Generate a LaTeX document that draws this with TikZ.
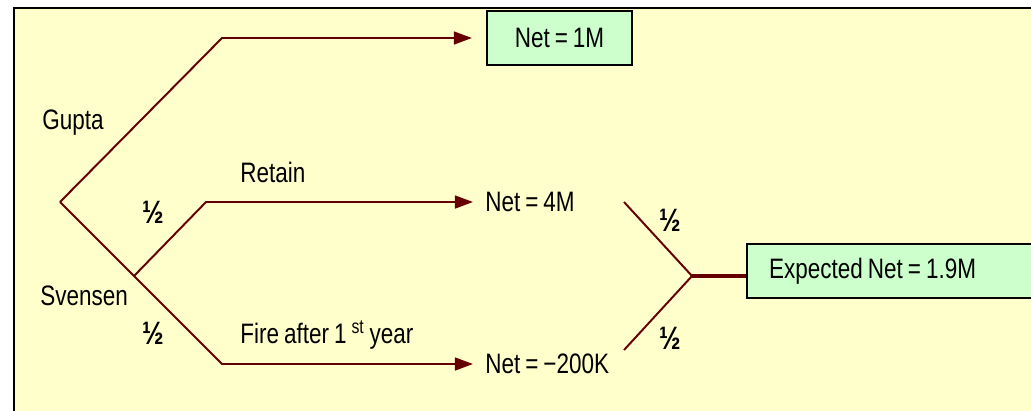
\documentclass[tikz,border=0pt]{standalone}
\usepackage{fontspec}
\setmainfont{Liberation Sans}[FakeStretch=0.8, WordSpace=0.8]
\usepackage{tikz}
\usetikzlibrary{arrows.meta}
\definecolor{panelcolor}{RGB}{255, 255, 204}
\definecolor{outcomecolor}{RGB}{204, 255, 204}
\definecolor{branchcolor}{RGB}{102, 0, 0}

\begin{document}
\begin{tikzpicture}[
    x=0.025cm, y=-0.025cm,
    branch/.style={draw=branchcolor, line width=1.4pt},
    arrow/.style={branch, -{Triangle[length=0.45cm, width=0.32cm]}},
    outcome/.style={draw, line width=1.5pt, fill=outcomecolor, minimum height=1.35cm, font=\fontsize{20}{24}\selectfont},
    label/.style={inner sep=0pt, anchor=west, font=\fontsize{20}{24}\selectfont},
    prob/.style={inner sep=0pt, font=\fontsize{23}{26}\selectfont\bfseries}
]
    \useasboundingbox (0,0) rectangle (1031,410);
    \clip (0,0) rectangle (1031,410);

    % Panel
    \fill[panelcolor] (14,8) rectangle (1050,430);
    \draw[line width=1.9pt, line cap=rect] (14,430) -- (14,8) -- (1050,8);

    % Tree points
    \coordinate (root) at (60,202);
    \coordinate (gcorner) at (222,38);
    \coordinate (schance) at (134,276);
    \coordinate (rcorner) at (206,202);
    \coordinate (fcorner) at (222,364);
    \coordinate (up) at (624,202);
    \coordinate (down) at (624,350);
    \coordinate (merge) at (692,276);

    % Outcomes
    \node[outcome, minimum width=3.625cm] (net1) at (559.5,38) {Net = 1M};
    \node[label] (net4) at (485,202) {Net = 4M};
    \node[label] (net200) at (485,364) {Net = −200K};
    \node[outcome, anchor=west, minimum width=7.5cm, text width=6.4cm, inner xsep=0.55cm, align=flush left] (expnet) at (746,271) {Expected Net = 1.9M};

    % Branch labels
    \node[label] (gupta) at (42,123) {Gupta};
    \node[label] (svensen) at (40,296) {Svensen};
    \node[label] (retain) at (240,172) {Retain};
    \node[label] (fire) at (240,335) {Fire after 1 \textsuperscript{st} year};
    \node[prob] (pretain) at (153,212) {½};
    \node[prob] (pfire) at (153,333) {½};
    \node[prob] (pup) at (670,220) {½};
    \node[prob] (pdown) at (670,338) {½};

    % Branches
    \draw[arrow] (root) -- (gcorner) -- ([xshift=-0.35cm]net1.west);
    \draw[arrow] (root) -- (fcorner) -- ([xshift=-0.3cm]net200.west);
    \draw[arrow] (schance) -- (rcorner) -- ([xshift=-0.3cm]net4.west);
    \draw[branch] (up) -- (merge) -- (down);
    \draw[branch, line width=2.8pt] (merge) -- (merge -| expnet.west);
\end{tikzpicture}
\end{document}
